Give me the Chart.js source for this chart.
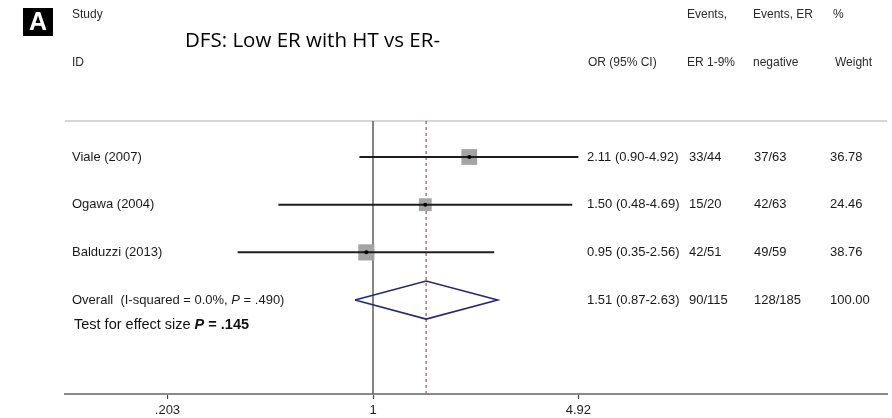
<!DOCTYPE html>
<html>
<head>
<meta charset="utf-8">
<script src="https://cdn.jsdelivr.net/npm/chart.js@4"></script>
<style>
  html, body { margin: 0; padding: 0; background: #fff; }
  #wrap { width: 892px; height: 418px; position: relative; }
</style>
</head>
<body>
<div id="wrap"><canvas id="chart" width="892" height="418"></canvas></div>
<script>
// study rows
const studies = ['Viale (2007)', 'Ogawa (2004)', 'Balduzzi (2013)'];
const oddsRatios = [2.11, 1.50, 0.95];
const ciLow = [0.90, 0.48, 0.35];
const ciHigh = [4.92, 4.69, 2.56];
const eventsLowER = ['33/44', '15/20', '42/51'];
const eventsNeg = ['37/63', '42/63', '49/59'];
const weights = [36.78, 24.46, 38.76];

// pooled estimate
const overallOR = 1.51;
const overallLow = 0.87;
const overallHigh = 2.63;
const overallEventsLowER = '90/115';
const overallEventsNeg = '128/185';
const overallWeight = '100.00';

const xTicks = [0.203, 1, 4.92];
const xTickLabels = ['.203', '1', '4.92'];

const FONT = "'Liberation Sans', Arial, sans-serif";
const overallRow = studies.length;

function fmt(v) { return v.toFixed(2); }

// CI lines, one dataset per study
const ciSets = studies.map((s, i) => ({
  type: 'line',
  data: [{ x: ciLow[i], y: i }, { x: ciHigh[i], y: i }],
  borderColor: '#1e1e1e',
  borderWidth: 2,
  pointRadius: 0,
  fill: false,
  order: 1
}));

const squareSet = {
  type: 'scatter',
  data: oddsRatios.map((v, i) => ({ x: v, y: i })),
  pointStyle: 'rect',
  pointRadius: ctx => 2.6 * Math.sqrt(weights[ctx.dataIndex]) / Math.SQRT2,
  backgroundColor: '#a4a4a4',
  borderWidth: 0,
  order: 2
};

const dotSet = {
  type: 'scatter',
  data: oddsRatios.map((v, i) => ({ x: v, y: i })),
  pointStyle: 'circle',
  pointRadius: 2,
  backgroundColor: '#000',
  borderWidth: 0,
  order: 0
};

const dh = 0.4; // half height of diamond, in rows
const diamondSet = {
  type: 'line',
  data: [
    { x: overallLow, y: overallRow },
    { x: overallOR, y: overallRow - dh },
    { x: overallHigh, y: overallRow },
    { x: overallOR, y: overallRow + dh },
    { x: overallLow, y: overallRow }
  ],
  borderColor: '#26267a',
  borderWidth: 1.6,
  pointRadius: 0,
  fill: false,
  tension: 0,
  order: 1
};

function drawRich(ctx, parts, x, y) {
  let cx = x;
  parts.forEach(p => {
    ctx.font = p[1];
    ctx.fillText(p[0], cx, y);
    cx += ctx.measureText(p[0]).width;
  });
}

const forestPlugin = {
  id: 'forest',
  beforeDatasetsDraw(chart) {
    const ctx = chart.ctx;
    const a = chart.chartArea;
    const xs = chart.scales.x;
    ctx.save();
    // top rule
    ctx.strokeStyle = '#d6d6d6';
    ctx.lineWidth = 2;
    ctx.beginPath();
    ctx.moveTo(a.left, a.top);
    ctx.lineTo(a.right, a.top);
    ctx.stroke();
    // null line
    const x1 = xs.getPixelForValue(1);
    ctx.strokeStyle = '#666';
    ctx.lineWidth = 1.6;
    ctx.beginPath();
    ctx.moveTo(x1, a.top);
    ctx.lineTo(x1, a.bottom);
    ctx.stroke();
    // overall estimate line
    const xo = xs.getPixelForValue(overallOR);
    ctx.strokeStyle = '#a86878';
    ctx.lineWidth = 1.4;
    ctx.setLineDash([3, 3]);
    ctx.beginPath();
    ctx.moveTo(xo, a.top);
    ctx.lineTo(xo, a.bottom);
    ctx.stroke();
    ctx.restore();
  },
  afterDraw(chart) {
    const ctx = chart.ctx;
    const a = chart.chartArea;
    const xs = chart.scales.x;
    const ys = chart.scales.y;
    ctx.save();
    // x tick labels
    ctx.fillStyle = '#1e1e1e';
    ctx.font = '13px ' + FONT;
    ctx.textAlign = 'center';
    ctx.textBaseline = 'middle';
    xTicks.forEach((v, i) => {
      ctx.fillText(xTickLabels[i], xs.getPixelForValue(v), a.bottom + 16);
    });

    // panel letter
    ctx.fillStyle = '#000';
    ctx.fillRect(23, 8, 30, 28);
    ctx.fillStyle = '#fff';
    ctx.font = 'bold 25px ' + FONT;
    ctx.fillText('A', 38, 23);

    // title
    ctx.fillStyle = '#000';
    ctx.textAlign = 'left';
    ctx.font = "20.5px 'Open Sans', sans-serif";
    ctx.fillText('DFS: Low ER with HT vs ER-', 185, 41);

    // headers
    ctx.fillStyle = '#2a2a2a';
    ctx.font = '12px ' + FONT;
    ctx.fillText('Study', 72, 15);
    ctx.fillText('ID', 72, 63);
    ctx.fillText('OR (95% CI)', 588, 63);
    ctx.fillText('Events,', 687, 15);
    ctx.fillText('ER 1-9%', 687, 63);
    ctx.fillText('Events, ER', 753, 15);
    ctx.fillText('negative', 753, 63);
    ctx.fillText('%', 833, 15);
    ctx.fillText('Weight', 835, 63);

    // rows
    ctx.fillStyle = '#1a1a1a';
    const rowFont = '13px ' + FONT;
    ctx.font = rowFont;
    studies.forEach((s, i) => {
      const y = ys.getPixelForValue(i);
      ctx.fillText(s, 72, y);
      ctx.fillText(fmt(oddsRatios[i]) + ' (' + fmt(ciLow[i]) + '-' + fmt(ciHigh[i]) + ')', 587, y);
      ctx.fillText(eventsLowER[i], 689, y);
      ctx.fillText(eventsNeg[i], 754, y);
      ctx.fillText(fmt(weights[i]), 830, y);
    });
    const yo = ys.getPixelForValue(overallRow);
    drawRich(ctx, [
      ['Overall  (I-squared = 0.0%, ', rowFont],
      ['P', 'italic ' + rowFont],
      [' = .490)', rowFont]
    ], 72, yo);
    ctx.font = rowFont;
    ctx.fillText(fmt(overallOR) + ' (' + fmt(overallLow) + '-' + fmt(overallHigh) + ')', 587, yo);
    ctx.fillText(overallEventsLowER, 689, yo);
    ctx.fillText(overallEventsNeg, 754, yo);
    ctx.fillText(overallWeight, 830, yo);

    const bigFont = '14.5px ' + FONT;
    ctx.fillStyle = '#111';
    drawRich(ctx, [
      ['Test for effect size ', bigFont],
      ['P', 'italic bold ' + bigFont],
      [' = .145', 'bold ' + bigFont]
    ], 74, ys.getPixelForValue(overallRow + 0.53));
    ctx.restore();
  }
};

const ctx = document.getElementById('chart').getContext('2d');
new Chart(ctx, {
  type: 'scatter',
  data: { datasets: [...ciSets, squareSet, dotSet, diamondSet] },
  options: {
    responsive: false,
    animation: false,
    layout: { autoPadding: false, padding: { left: 65, right: 5, top: 121, bottom: 0 } },
    plugins: { legend: { display: false }, tooltip: { enabled: false } },
    scales: {
      x: {
        type: 'logarithmic',
        min: 0.0917,
        max: 53.9,
        afterBuildTicks: axis => { axis.ticks = xTicks.map(v => ({ value: v })); },
        afterFit: axis => { axis.height = 24; },
        ticks: { display: false },
        grid: { drawOnChartArea: false, drawTicks: true, tickLength: 5, tickColor: '#444', tickWidth: 1.2 },
        border: { display: true, color: '#8a8a8a', width: 2 }
      },
      y: {
        display: false,
        reverse: true,
        min: -0.755,
        max: 4.97
      }
    }
  },
  plugins: [forestPlugin]
});
</script>
</body>
</html>
